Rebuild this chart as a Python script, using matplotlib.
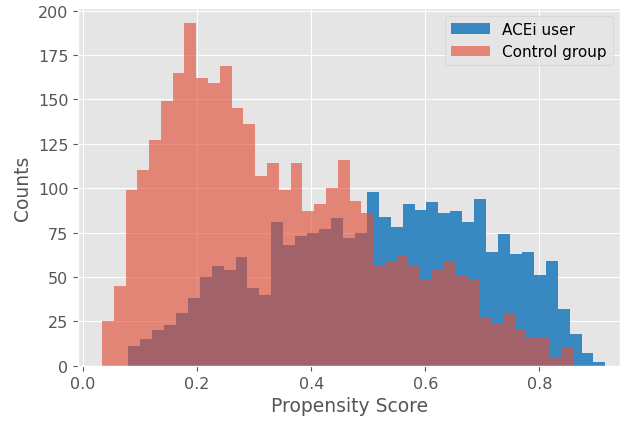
import matplotlib
matplotlib.use("Agg")
import matplotlib.pyplot as plt
import numpy as np

plt.style.use("ggplot")

# bin ranges (40 equal bins each)
acei_range = (0.079, 0.916)
control_range = (0.033, 0.860)

acei_counts = [11, 15, 20, 23, 30, 38, 50, 56, 54, 61,
               44, 40, 81, 68, 73, 75, 77, 83, 72, 75,
               98, 84, 78, 91, 88, 92, 86, 87, 81, 94,
               64, 74, 63, 64, 51, 59, 32, 18, 7, 2]
control_counts = [25, 45, 99, 110, 127, 149, 165, 193, 162, 159,
                  169, 145, 136, 107, 114, 99, 114, 87, 91, 100,
                  116, 93, 86, 57, 59, 62, 56, 49, 54, 59,
                  51, 49, 27, 24, 29, 21, 16, 16, 5, 10]

acei_edges = np.linspace(acei_range[0], acei_range[1], len(acei_counts) + 1)
control_edges = np.linspace(control_range[0], control_range[1], len(control_counts) + 1)

fig = plt.figure(figsize=(6.24, 4.27), dpi=100)
ax = fig.add_axes([0.125, 0.141, 0.869, 0.838])

ax.hist(acei_edges[:-1], bins=acei_edges, weights=acei_counts,
        color="#2f84bf", alpha=0.95, label="ACEi user")
ax.hist(control_edges[:-1], bins=control_edges, weights=control_counts,
        color="#E24A33", alpha=0.62, label="Control group")

ax.set_xlim(-0.009, 0.942)
ax.set_ylim(0, 201.5)
ax.set_xticks([0.0, 0.2, 0.4, 0.6, 0.8])
ax.set_yticks(range(0, 201, 25))
ax.tick_params(labelsize=11.5)
ax.set_xlabel("Propensity Score", fontsize=13.5)
ax.set_ylabel("Counts", fontsize=13.5)
ax.legend(loc="upper right", fontsize=11, handlelength=2.5)

fig.savefig("out.png", dpi=100)
